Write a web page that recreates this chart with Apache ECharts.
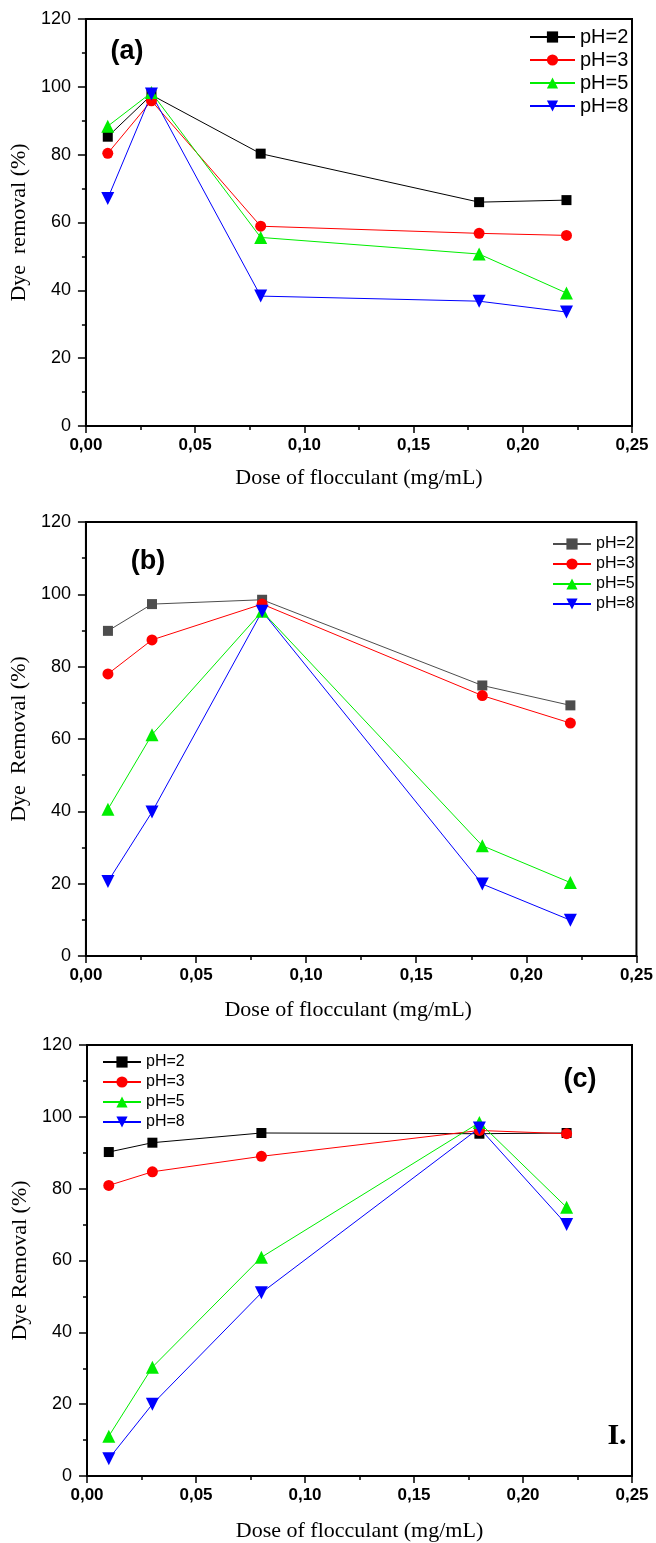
<!DOCTYPE html>
<html>
<head>
<meta charset="utf-8">
<script src="https://cdn.jsdelivr.net/npm/echarts@6/dist/echarts.min.js"></script>
<style>
    body { margin: 0; background: #fff; }
    #chart { width: 656px; height: 1543px; }
</style>
</head>
<body>
<div id="chart"></div>
<script>
// dose of flocculant (mg/mL), same for all three panels
let doses = [0.01, 0.03, 0.08, 0.18, 0.22];
let phNames = ['pH=2', 'pH=3', 'pH=5', 'pH=8'];
let xTicks = [0, 0.05, 0.10, 0.15, 0.20, 0.25];
let yTicks = [0, 20, 40, 60, 80, 100, 120];

// panel (a)
let aPH2 = [85.3, 97.6, 80.3, 66.0, 66.6];
let aPH3 = [80.4, 95.9, 58.9, 56.8, 56.2];
let aPH5 = [88.4, 98.3, 55.6, 50.7, 39.2];
let aPH8 = [67.1, 97.9, 38.3, 36.8, 33.6];

// panel (b)
let bPH2 = [89.9, 97.3, 98.5, 74.8, 69.3];
let bPH3 = [78.0, 87.4, 97.3, 72.0, 64.4];
let bPH5 = [40.6, 61.2, 95.3, 30.5, 20.3];
let bPH8 = [20.6, 39.8, 95.3, 19.9, 9.9];

// panel (c)
let cPH2 = [90.2, 92.8, 95.5, 95.3, 95.5];
let cPH3 = [80.9, 84.7, 89.0, 96.2, 95.3];
let cPH5 = [11.1, 30.3, 60.9, 98.4, 74.8];
let cPH8 = [4.8, 20.0, 51.0, 96.9, 70.0];

let sans = 'Liberation Sans, Arial, sans-serif';
let serif = 'Liberation Serif, Times New Roman, serif';

let panels = [
    {key: 'a', grid: {left: 83, top: 19, width: 549, height: 407}, yName: 'Dye  removal (%)',
        values: [aPH2, aPH3, aPH5, aPH8], colors: ['#000', '#ff0000', '#00ee00', '#0000ff'],
        xNameGap: 41, xNamePad: [0, 0, 0, 0]},
    {key: 'b', grid: {left: 84, top: 522, width: 555, height: 434}, yName: 'Dye  Removal (%)',
        values: [bPH2, bPH3, bPH5, bPH8], colors: ['#4d4d4d', '#ff0000', '#00ee00', '#0000ff'],
        xNameGap: 43, xNamePad: [0, 26, 0, 0]},
    {key: 'c', grid: {left: 87, top: 1045, width: 545, height: 432}, yName: 'Dye Removal (%)',
        values: [cPH2, cPH3, cPH5, cPH8], colors: ['#000', '#ff0000', '#00ee00', '#0000ff'],
        xNameGap: 44, xNamePad: [0, 0, 0, 0]}
];

let symbols = [
    {symbol: 'rect', size: 10, rotate: 0},
    {symbol: 'circle', size: 11, rotate: 0},
    {symbol: 'triangle', size: 13, rotate: 0},
    {symbol: 'triangle', size: 13, rotate: 180}
];

let grids = [], xAxes = [], yAxes = [], series = [];
panels.forEach((p, pi) => {
    grids.push(Object.assign({show: true, borderColor: '#000', borderWidth: 2, backgroundColor: 'transparent'}, p.grid));
    xAxes.push({
        type: 'value', gridIndex: pi, min: xTicks[0], max: xTicks[xTicks.length - 1], interval: 0.05,
        name: 'Dose of flocculant (mg/mL)', nameLocation: 'middle', nameGap: p.xNameGap,
        nameTextStyle: {fontFamily: serif, fontSize: 22, color: '#000', padding: p.xNamePad},
        axisLine: {lineStyle: {color: '#000', width: 2}},
        axisTick: {show: true, length: 7, lineStyle: {color: '#000', width: 1.5}},
        minorTick: {show: true, splitNumber: 2, length: 4, lineStyle: {color: '#000', width: 1.5}},
        splitLine: {show: false},
        axisLabel: {fontFamily: sans, fontSize: 17, fontWeight: 'bold', color: '#000', margin: 11,
            formatter: v => v.toFixed(2).replace('.', ',')}
    });
    yAxes.push({
        type: 'value', gridIndex: pi, min: yTicks[0], max: yTicks[yTicks.length - 1], interval: 20,
        name: p.yName, nameLocation: 'middle', nameGap: 50,
        nameTextStyle: {fontFamily: serif, fontSize: 22, color: '#000'},
        axisLine: {show: true, lineStyle: {color: '#000', width: 2}},
        axisTick: {show: true, length: 8, lineStyle: {color: '#000', width: 1.5}},
        minorTick: {show: true, splitNumber: 2, length: 4, lineStyle: {color: '#000', width: 1.5}},
        splitLine: {show: false},
        axisLabel: {fontFamily: sans, fontSize: 18, color: '#000', margin: 15}
    });
    p.values.forEach((vals, si) => {
        series.push({
            name: p.key + '|' + phNames[si],
            type: 'line',
            xAxisIndex: pi, yAxisIndex: pi,
            data: doses.map((d, i) => [d, vals[i]]),
            symbol: symbols[si].symbol,
            symbolSize: symbols[si].size,
            symbolRotate: symbols[si].rotate,
            color: p.colors[si],
            lineStyle: {width: 1, color: p.colors[si]},
            itemStyle: {color: p.colors[si]},
            emphasis: {disabled: true},
            animation: false
        });
    });
});

let legendBase = {
    orient: 'vertical', itemHeight: 14, selectedMode: false,
    formatter: n => n.split('|')[1]
};
let legends = [
    Object.assign({}, legendBase, {left: 524, top: 22, itemWidth: 45, itemGap: 3,
        textStyle: {fontFamily: sans, fontSize: 20, color: '#000'},
        data: phNames.map(n => 'a|' + n)}),
    Object.assign({}, legendBase, {left: 547, top: 531, itemWidth: 38, itemGap: 4,
        textStyle: {fontFamily: sans, fontSize: 16, color: '#000'},
        data: phNames.map(n => 'b|' + n)}),
    Object.assign({}, legendBase, {left: 97, top: 1049, itemWidth: 38, itemGap: 4,
        textStyle: {fontFamily: sans, fontSize: 16, color: '#000'},
        data: phNames.map(n => 'c|' + n)})
];

let chart = echarts.init(document.getElementById('chart'), null, {renderer: 'canvas'});
chart.setOption({
    backgroundColor: '#fff',
    animation: false,
    grid: grids,
    xAxis: xAxes,
    yAxis: yAxes,
    legend: legends,
    series: series,
    graphic: [
        {type: 'text', x: 127, y: 52, style: {text: '(a)', fontFamily: sans, fontSize: 27, fontWeight: 'bold', fill: '#000', align: 'center', verticalAlign: 'middle'}},
        {type: 'text', x: 148, y: 562, style: {text: '(b)', fontFamily: sans, fontSize: 27, fontWeight: 'bold', fill: '#000', align: 'center', verticalAlign: 'middle'}},
        {type: 'text', x: 580, y: 1080, style: {text: '(c)', fontFamily: sans, fontSize: 27, fontWeight: 'bold', fill: '#000', align: 'center', verticalAlign: 'middle'}},
        {type: 'text', x: 617, y: 1436, style: {text: 'I.', fontFamily: serif, fontSize: 30, fontWeight: 'bold', fill: '#000', align: 'center', verticalAlign: 'middle'}}
    ]
});
</script>
</body>
</html>
